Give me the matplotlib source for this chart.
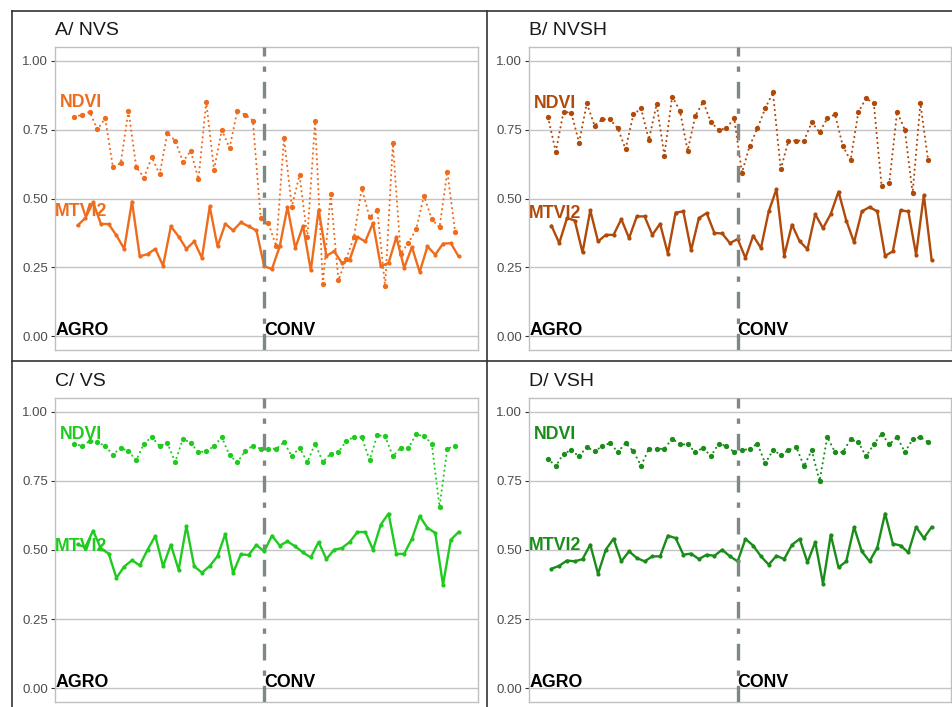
import numpy as np
import matplotlib
matplotlib.use("Agg")
import matplotlib.pyplot as plt
from matplotlib.lines import Line2D

plt.rcParams['font.family'] = ['Liberation Sans', 'DejaVu Sans']

# ---------------- data ----------------
panel_titles = ["A/ NVS", "B/ NVSH", "C/ VS", "D/ VSH"]
panel_colors = ["#ef6c1c", "#b04a0a", "#1ecb1e", "#1a8c1a"]
group_labels = ["AGRO", "CONV"]
series_labels = ["NDVI", "MTVI2"]
yticks = [0.00, 0.25, 0.50, 0.75, 1.00]
ytick_labels = ["0.00", "0.25", "0.50", "0.75", "1.00"]
n_agro = 24  # first CONV sample index

A_ndvi = [0.797, 0.803, 0.815, 0.751, 0.791, 0.614, 0.628, 0.818, 0.614, 0.576, 0.650, 0.588,
          0.737, 0.710, 0.634, 0.673, 0.570, 0.851, 0.604, 0.749, 0.683, 0.819, 0.804, 0.783,
          0.429, 0.410, 0.326, 0.720, 0.470, 0.585, 0.360, 0.780, 0.190, 0.516, 0.203, 0.280,
          0.360, 0.537, 0.432, 0.457, 0.181, 0.700, 0.300, 0.338, 0.389, 0.510, 0.425, 0.395,
          0.598, 0.380]
A_mtvi2 = [0.402, 0.429, 0.486, 0.408, 0.407, 0.366, 0.317, 0.489, 0.290, 0.298, 0.317, 0.256,
           0.399, 0.362, 0.317, 0.344, 0.284, 0.471, 0.326, 0.408, 0.384, 0.413, 0.399, 0.384,
           0.254, 0.244, 0.326, 0.469, 0.320, 0.401, 0.239, 0.459, 0.292, 0.308, 0.266, 0.278,
           0.360, 0.344, 0.411, 0.254, 0.266, 0.360, 0.248, 0.324, 0.233, 0.326, 0.296, 0.336,
           0.338, 0.290]

B_ndvi = [0.795, 0.670, 0.815, 0.811, 0.703, 0.845, 0.765, 0.787, 0.787, 0.755, 0.679, 0.805,
          0.827, 0.713, 0.842, 0.656, 0.870, 0.819, 0.674, 0.800, 0.851, 0.777, 0.749, 0.755,
          0.791, 0.594, 0.691, 0.755, 0.827, 0.885, 0.606, 0.710, 0.710, 0.710, 0.777, 0.740,
          0.791, 0.805, 0.691, 0.638, 0.813, 0.864, 0.845, 0.546, 0.558, 0.815, 0.749, 0.519,
          0.845, 0.638]
B_mtvi2 = [0.401, 0.338, 0.429, 0.420, 0.304, 0.457, 0.344, 0.368, 0.368, 0.425, 0.356, 0.435,
           0.435, 0.368, 0.408, 0.300, 0.449, 0.453, 0.312, 0.429, 0.447, 0.375, 0.373, 0.338,
           0.353, 0.284, 0.365, 0.320, 0.453, 0.534, 0.292, 0.405, 0.344, 0.316, 0.443, 0.392,
           0.444, 0.525, 0.420, 0.341, 0.453, 0.469, 0.453, 0.292, 0.308, 0.457, 0.453, 0.296,
           0.513, 0.278]

C_ndvi = [0.885, 0.876, 0.894, 0.890, 0.876, 0.845, 0.870, 0.857, 0.825, 0.885, 0.909, 0.876,
          0.887, 0.818, 0.903, 0.887, 0.854, 0.857, 0.876, 0.908, 0.842, 0.818, 0.857, 0.878,
          0.866, 0.867, 0.866, 0.890, 0.839, 0.870, 0.818, 0.885, 0.818, 0.849, 0.854, 0.894,
          0.909, 0.909, 0.825, 0.915, 0.912, 0.839, 0.870, 0.870, 0.918, 0.912, 0.885, 0.656,
          0.866, 0.878]
C_mtvi2 = [0.520, 0.510, 0.570, 0.505, 0.487, 0.399, 0.440, 0.463, 0.444, 0.501, 0.551, 0.441,
           0.519, 0.428, 0.587, 0.441, 0.418, 0.442, 0.478, 0.558, 0.417, 0.484, 0.482, 0.518,
           0.495, 0.552, 0.516, 0.531, 0.513, 0.491, 0.473, 0.529, 0.467, 0.501, 0.507, 0.529,
           0.565, 0.565, 0.501, 0.592, 0.632, 0.486, 0.486, 0.540, 0.622, 0.580, 0.562, 0.374,
           0.537, 0.565]

D_ndvi = [0.830, 0.803, 0.849, 0.861, 0.839, 0.873, 0.857, 0.876, 0.887, 0.854, 0.887, 0.857,
          0.805, 0.866, 0.866, 0.866, 0.903, 0.882, 0.882, 0.854, 0.870, 0.839, 0.885, 0.876,
          0.854, 0.861, 0.866, 0.885, 0.813, 0.861, 0.845, 0.861, 0.873, 0.803, 0.861, 0.749,
          0.909, 0.854, 0.854, 0.900, 0.890, 0.839, 0.882, 0.921, 0.882, 0.909, 0.854, 0.900,
          0.909, 0.890]
D_mtvi2 = [0.432, 0.443, 0.462, 0.459, 0.467, 0.519, 0.414, 0.501, 0.541, 0.459, 0.495, 0.471,
           0.459, 0.477, 0.477, 0.552, 0.543, 0.483, 0.487, 0.467, 0.483, 0.479, 0.501, 0.477,
           0.459, 0.540, 0.516, 0.477, 0.447, 0.479, 0.467, 0.519, 0.540, 0.455, 0.529, 0.378,
           0.555, 0.437, 0.459, 0.583, 0.495, 0.459, 0.509, 0.632, 0.523, 0.516, 0.491, 0.583,
           0.543, 0.583]

ndvi_sets = [A_ndvi, B_ndvi, C_ndvi, D_ndvi]
mtvi2_sets = [A_mtvi2, B_mtvi2, C_mtvi2, D_mtvi2]

# label anchor positions (data units)
ndvi_label_y = [0.847, 0.845, 0.918, 0.918]
mtvi2_label_y = [0.453, 0.447, 0.513, 0.517]

# ---------------- layout ----------------
W, H = 953, 707
fig = plt.figure(figsize=(W / 100, H / 100), dpi=100)
fig.patch.set_facecolor("white")


def rect(l, t, r, b):
    return [l / W, 1 - b / H, (r - l) / W, (b - t) / H]


axes_rects = [rect(55, 47, 478, 350), rect(529, 47, 951, 350),
              rect(55, 398, 478, 702), rect(529, 398, 951, 702)]

NDVI_DODGE = -0.45
XLIM = (-2.9, 51.5)

for k in range(4):
    ax = fig.add_axes(axes_rects[k])
    col = panel_colors[k]
    ndvi = np.array(ndvi_sets[k])
    mt = np.array(mtvi2_sets[k])
    x = np.arange(len(mt))
    ax.set_xlim(*XLIM)
    ax.set_ylim(-0.05, 1.05)
    for yv in yticks:
        ax.axhline(yv, color="#c4c4c4", lw=1.0, zorder=0)
    ax.plot(x + NDVI_DODGE, ndvi, color=col, lw=1.5, ls=(0, (0.1, 2.3)),
            dash_capstyle="round", zorder=3)
    ax.plot(x + NDVI_DODGE, ndvi, color=col, ls="none",
            marker="o", ms=3.8, mew=0, zorder=3)
    ax.plot(x, mt, color=col, lw=1.7, ls="-", marker="o", ms=3.0, mew=0, zorder=3)
    ax.axvline(n_agro, color="#7f8883", lw=2.4, ls=(0, (5, 3, 1.6, 3)), zorder=4)

    ax.text(0.5, ndvi_label_y[k], series_labels[0], color=col, fontsize=12.8,
            fontweight="bold", ha="center", va="center", zorder=5)
    ax.text(0.5, mtvi2_label_y[k], series_labels[1], color=col, fontsize=12.8,
            fontweight="bold", ha="center", va="center", zorder=5)
    ax.text(XLIM[0] + 0.1, 0.005, group_labels[0], color="black", fontsize=12.8,
            fontweight="bold", ha="left", va="baseline", zorder=5)
    ax.text(n_agro, 0.005, group_labels[1], color="black", fontsize=12.8,
            fontweight="bold", ha="left", va="baseline", zorder=5)

    ax.set_yticks(yticks)
    ax.set_yticklabels(ytick_labels)
    ax.set_xticks([])
    ax.tick_params(axis="y", length=3, width=0.8, color="#333333",
                   labelsize=9.5, labelcolor="#4d4d4d", pad=2)
    for sp in ax.spines.values():
        sp.set_color("#c0c0c0")
        sp.set_linewidth(1.0)
    ax.text(0.0, 1.0 + 12 / 303, panel_titles[k], transform=ax.transAxes,
            fontsize=14, color="#1a1a1a", ha="left", va="baseline")

# panel divider lines
def fline(x0, y0, x1, y1):
    fig.add_artist(Line2D([x0 / W, x1 / W], [1 - y0 / H, 1 - y1 / H],
                          color="#333333", lw=1.2, transform=fig.transFigure))

fline(12, 11, W, 11)
fline(12, 11, 12, H)
fline(12, 361, W, 361)
fline(487, 11, 487, H)

fig.savefig("out.png", dpi=100, facecolor="white")
